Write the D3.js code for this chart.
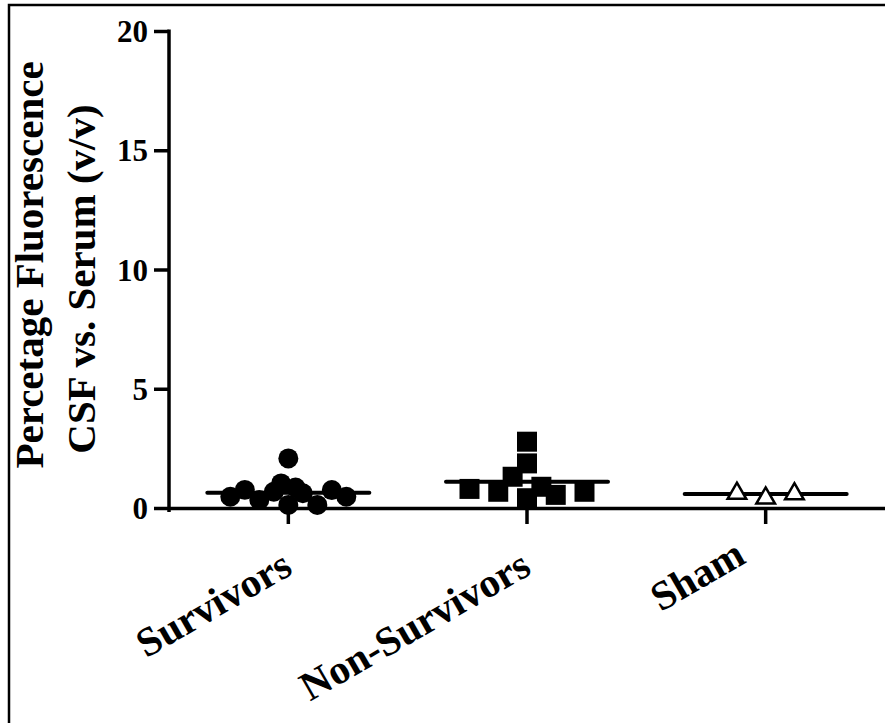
<!DOCTYPE html>
<html>
<head>
<meta charset="utf-8">
<script src="https://cdn.jsdelivr.net/npm/d3@7"></script>
<style>
    html, body { margin: 0; padding: 0; background: #fff; }
    svg { display: block; }
    text { font-family: "Liberation Serif", "Times New Roman", serif; font-weight: bold; fill: #000; }
</style>
</head>
<body>
<div id="app"></div>
<script>
"use strict";

// values
const categories = ["Survivors", "Non-Survivors", "Sham"];
const survivors = [2.08, 1.03, 0.86, 0.47, 0.76, 0.34, 0.68, 0.13, 0.62, 0.13, 0.75, 0.47];
const nonSurvivors = [2.78, 1.87, 1.31, 0.89, 0.80, 0.68, 0.41, 0.55, 0.68];
const sham = [0.61, 0.41, 0.59];
const means = [0.64, 1.10, 0.59];
const yTicks = [0, 5, 10, 15, 20];
const yTitle = ["Percetage Fluorescence", "CSF vs. Serum (v/v)"];

const groups = [survivors, nonSurvivors, sham];
const shapes = [d3.symbolCircle, d3.symbolSquare, d3.symbolTriangle];
const sizes = [314, 400, 150];

const width = 885, height = 723;
const axisW = 3.5;

const svg = d3.select("#app").append("svg")
    .attr("width", width)
    .attr("height", height);

// frame
svg.append("rect")
    .attr("x", 9).attr("y", 5)
    .attr("width", width + 20).attr("height", height + 20)
    .attr("fill", "none")
    .attr("stroke", "#000")
    .attr("stroke-width", 2.5);

const y = d3.scaleLinear().domain([0, 20]).range([508, 31]);
const x = d3.scaleBand().domain(categories).range([169, 885]);
const cx = c => x(c) + x.bandwidth() / 2;

// y axis
const yAxis = svg.append("g")
    .attr("transform", "translate(169,0)")
    .call(d3.axisLeft(y).tickValues(yTicks).tickSize(15).tickSizeOuter(0).tickPadding(6));
yAxis.select(".domain").attr("stroke-width", axisW).attr("d", `M0,${y(20) - 1.5}V${y(0) + 4}`);
yAxis.selectAll(".tick line").attr("stroke-width", axisW);
yAxis.selectAll(".tick text")
    .attr("font-family", null)
    .style("font-size", "31px")
    .attr("dy", "0.34em");

// x axis
const xAxis = svg.append("g")
    .attr("transform", `translate(0,${y(0)})`)
    .call(d3.axisBottom(x).tickSize(16).tickSizeOuter(0).tickFormat(""));
xAxis.select(".domain").attr("stroke-width", axisW);
xAxis.selectAll(".tick line").attr("stroke-width", axisW);

// category labels, rotated
svg.selectAll(".xlab")
    .data(categories)
    .enter()
    .append("text")
    .attr("class", "xlab")
    .attr("text-anchor", "end")
    .style("font-size", "41px")
    .attr("transform", (d, i) => `translate(${cx(d) + (i == 2 ? -18 : 6)},${i == 2 ? 562 : 573}) rotate(-30)`)
    .text(d => d);

// y title
svg.selectAll(".ytitle")
    .data(yTitle)
    .enter()
    .append("text")
    .attr("class", "ytitle")
    .attr("text-anchor", "middle")
    .style("font-size", "41px")
    .attr("transform", (d, i) => `translate(${43 + i * 52},${265 + i * 14}) rotate(-90)`)
    .text(d => d);

// mean lines
svg.selectAll(".mean")
    .data(means)
    .enter()
    .append("line")
    .attr("class", "mean")
    .attr("x1", (d, i) => cx(categories[i]) - 81)
    .attr("x2", (d, i) => cx(categories[i]) + 81)
    .attr("y1", d => y(d))
    .attr("y2", d => y(d))
    .attr("stroke", "#000")
    .attr("stroke-width", 4)
    .attr("stroke-linecap", "round");

// column scatter layout: rows of similar values, spread evenly around the column centre
const rowStep = 0.82, maxSpacing = 28.75, maxSpread = 116;
groups.forEach((vals, gi) => {
    let rows = d3.group(vals.map((v, i) => ({ v, i })), d => Math.floor(d.v / rowStep));
    let maxCount = d3.max(Array.from(rows.values()), r => r.length);
    let spacing = maxCount > 1 ? Math.min(maxSpacing, maxSpread / (maxCount - 1)) : 0;
    let pts = [];
    for (let row of rows.values()) {
        row.forEach((p, k) => pts.push({ v: p.v, dx: (k - (row.length - 1) / 2) * spacing }));
    }
    const c = cx(categories[gi]);
    svg.append("g")
        .selectAll("path")
        .data(pts)
        .enter()
        .append("path")
        .attr("d", d3.symbol(shapes[gi], sizes[gi]))
        .attr("transform", d => `translate(${c + d.dx},${y(d.v)})`)
        .attr("fill", gi == 2 ? "#fff" : "#000")
        .attr("stroke", "#000")
        .attr("stroke-width", gi == 2 ? 2.5 : 0);
});
</script>
</body>
</html>
